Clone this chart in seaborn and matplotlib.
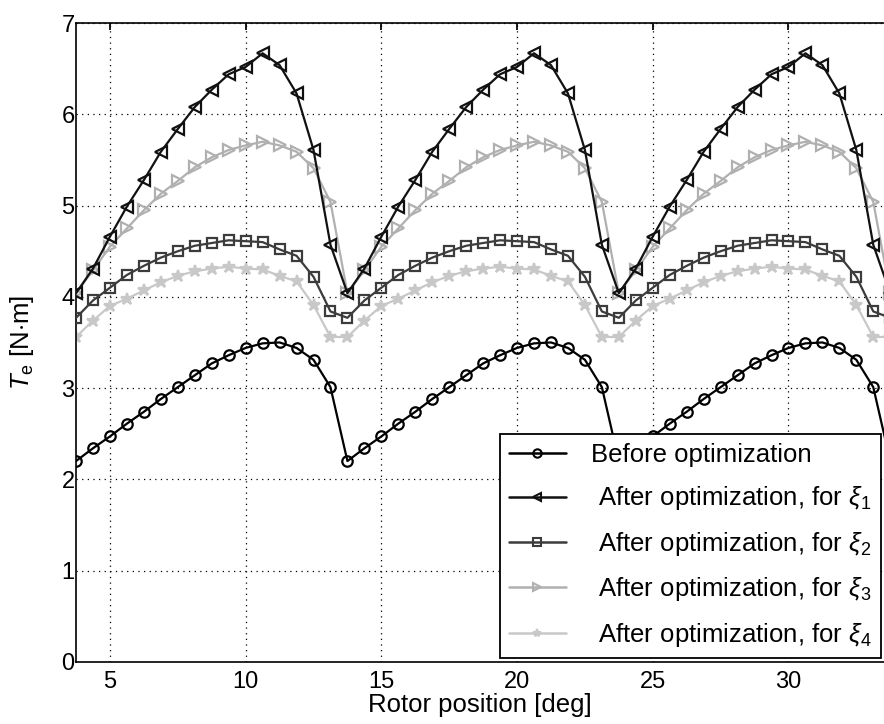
import numpy as np
import pandas as pd
import matplotlib
matplotlib.use("Agg")
import matplotlib.pyplot as plt
import seaborn as sns
from matplotlib.lines import Line2D

# Rotor position samples (deg)
rotor_pos = np.round(3.75 + 0.625 * np.arange(49), 4)

before = [2.20, 2.34, 2.47, 2.61, 2.74, 2.88, 3.01, 3.14, 3.27, 3.36, 3.44, 3.49, 3.50, 3.44, 3.31, 3.01,
          2.20, 2.34, 2.47, 2.61, 2.74, 2.88, 3.01, 3.14, 3.27, 3.36, 3.44, 3.49, 3.50, 3.44, 3.31, 3.01,
          2.20, 2.34, 2.47, 2.61, 2.74, 2.88, 3.01, 3.14, 3.27, 3.36, 3.44, 3.49, 3.50, 3.44, 3.31, 3.01,
          2.20]
xi1 = [4.04, 4.31, 4.66, 4.99, 5.28, 5.59, 5.84, 6.08, 6.27, 6.44, 6.52, 6.67, 6.54, 6.23, 5.61, 4.57,
       4.04, 4.31, 4.66, 4.99, 5.28, 5.59, 5.84, 6.08, 6.27, 6.44, 6.52, 6.67, 6.54, 6.23, 5.61, 4.57,
       4.04, 4.31, 4.66, 4.99, 5.28, 5.59, 5.84, 6.08, 6.27, 6.44, 6.52, 6.67, 6.54, 6.23, 5.61, 4.57,
       4.04]
xi2 = [3.77, 3.96, 4.10, 4.24, 4.34, 4.43, 4.50, 4.56, 4.59, 4.62, 4.61, 4.60, 4.52, 4.45, 4.22, 3.84,
       3.77, 3.96, 4.10, 4.24, 4.34, 4.43, 4.50, 4.56, 4.59, 4.62, 4.61, 4.60, 4.52, 4.45, 4.22, 3.84,
       3.77, 3.96, 4.10, 4.24, 4.34, 4.43, 4.50, 4.56, 4.59, 4.62, 4.61, 4.60, 4.52, 4.45, 4.22, 3.84,
       3.77]
xi3 = [4.04, 4.29, 4.55, 4.75, 4.95, 5.13, 5.27, 5.42, 5.53, 5.61, 5.66, 5.70, 5.66, 5.59, 5.41, 5.04,
       4.04, 4.29, 4.55, 4.75, 4.95, 5.13, 5.27, 5.42, 5.53, 5.61, 5.66, 5.70, 5.66, 5.59, 5.41, 5.04,
       4.04, 4.29, 4.55, 4.75, 4.95, 5.13, 5.27, 5.42, 5.53, 5.61, 5.66, 5.70, 5.66, 5.59, 5.41, 5.04,
       4.04]
xi4 = [3.56, 3.74, 3.90, 3.98, 4.07, 4.16, 4.23, 4.28, 4.31, 4.33, 4.31, 4.30, 4.23, 4.17, 3.91, 3.56,
       3.56, 3.74, 3.90, 3.98, 4.07, 4.16, 4.23, 4.28, 4.31, 4.33, 4.31, 4.30, 4.23, 4.17, 3.91, 3.56,
       3.56, 3.74, 3.90, 3.98, 4.07, 4.16, 4.23, 4.28, 4.31, 4.33, 4.31, 4.30, 4.23, 4.17, 3.91, 3.56,
       3.56]

labels = ["Before optimization",
          " After optimization, for $\\xi_{\\mathregular{1}}$",
          " After optimization, for $\\xi_{\\mathregular{2}}$",
          " After optimization, for $\\xi_{\\mathregular{3}}$",
          " After optimization, for $\\xi_{\\mathregular{4}}$"]
x_ticks = [5, 10, 15, 20, 25, 30]
y_ticks = [0, 1, 2, 3, 4, 5, 6, 7]

sns.set_theme(style="white")
plt.rcParams['font.family'] = ['Liberation Sans', 'DejaVu Sans']
plt.rcParams['mathtext.fontset'] = 'custom'
plt.rcParams['mathtext.rm'] = 'Liberation Sans'
plt.rcParams['mathtext.it'] = 'Liberation Sans:italic'
plt.rcParams['mathtext.sf'] = 'Liberation Sans'
plt.rcParams['text.color'] = 'black'
plt.rcParams['axes.labelcolor'] = 'black'

fig = plt.figure(figsize=(8.84, 7.24), dpi=100)
ax = fig.add_axes([0.086, 0.086, 0.914, 0.882])

series = [before, xi1, xi2, xi3, xi4]
colors = ["#000000", "#111111", "#3c3c3c", "#b0b0b0", "#c8c8c8"]
markers = ["o", "<", "s", ">", "*"]
msizes = [7.5, 8.5, 7.5, 8.5, 9]
zorders = [3, 5, 4, 3, 2]

order = [4, 3, 2, 0, 1]
for i in order:
    df = pd.DataFrame({"pos": rotor_pos, "T": series[i]})
    mfc = colors[i] if markers[i] == "*" else "none"
    sns.lineplot(data=df, x="pos", y="T", ax=ax, color=colors[i], linewidth=1.6,
                 marker=markers[i], markersize=msizes[i], markerfacecolor=mfc,
                 markeredgecolor=colors[i], markeredgewidth=1.6, zorder=zorders[i])

ax.set_xlim(3.75, 33.52)
ax.set_ylim(0, 7)
ax.set_xticks(x_ticks)
ax.set_yticks(y_ticks)
ax.grid(True, linestyle=(0, (1, 3.5)), color="black", linewidth=0.9)
ax.tick_params(direction="in", labelsize=17, length=5, colors="black",
               top=True, right=False)
ax.tick_params(axis="x", pad=7)
ax.tick_params(axis="y", pad=1)
for sp in ax.spines.values():
    sp.set_color("black")
    sp.set_linewidth(1.2)
ax.spines["right"].set_visible(False)

ax.set_xlabel("Rotor position [deg]", fontsize=18.5, labelpad=0)
ax.set_ylabel("$\\mathit{T}_{\\mathregular{e}}$ [N$\\cdot$m]", fontsize=18.5, labelpad=18)

leg_handles = []
for i in range(5):
    mfc = colors[i] if markers[i] == "*" else "none"
    leg_handles.append(Line2D([0], [0], color=colors[i], linewidth=1.8, marker=markers[i],
                              markersize=6, markerfacecolor=mfc, markeredgecolor=colors[i],
                              markeredgewidth=1.5))
leg = ax.legend(leg_handles, labels, loc="lower left", bbox_to_anchor=(0.525, 0.006),
                fontsize=18.5, frameon=True, fancybox=False, edgecolor="black",
                framealpha=1, labelspacing=0.68, handlelength=2.2, handletextpad=1.0,
                borderpad=0.35, borderaxespad=0)
leg.get_frame().set_linewidth(1.3)

fig.savefig("out.png", dpi=100)
